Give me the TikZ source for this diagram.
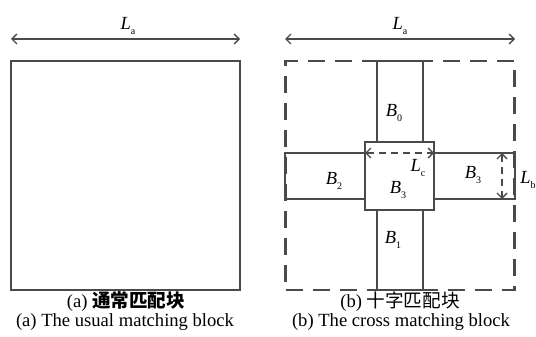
\documentclass[tikz,border=0pt]{standalone}
\usepackage{fontspec}
\setmainfont{Liberation Serif}
\newfontfamily\cjk{Noto Sans CJK SC}
\usetikzlibrary{arrows.meta}
\definecolor{lc}{HTML}{4A4A4A}
\begin{document}
\begin{tikzpicture}[x=1pt,y=-1pt,
  blk/.style={draw=lc,line width=2.2pt,inner sep=0pt,outer sep=0pt},
  dim/.style={draw=lc,line width=1.4pt,{Straight Barb[length=5pt,width=10pt]}-{Straight Barb[length=5pt,width=10pt]}},
  lbl/.style={inner sep=0pt,font=\fontsize{18.5}{20}\selectfont},
  captxt/.style={inner sep=0pt,font=\fontsize{18.6}{20}\selectfont}]
\useasboundingbox (0,0) rectangle (536,337);
% left
\node[blk,minimum width=229pt,minimum height=229pt] (sqa) at (125.5,175.5) {};
\coordinate (aL) at (11,39);
\coordinate (aR) at (240,39);
\draw[dim] (aL) -- (aR);
\node[lbl] (la) at (128,26) {\textit{L}\raisebox{-0.5ex}{\fontsize{10}{10}\selectfont a}};
\node[captxt] (ca1) at (126,302) {(a) {\cjk\bfseries 通常匹配块}};
\node[captxt] (ca2) at (125,322) {(a) The usual matching block};
% right
\node[blk,dash pattern=on 17pt off 10pt,minimum width=229pt,minimum height=229pt] (sqb) at (400,175.5) {};
\node[blk,minimum width=46pt,minimum height=229pt] (vbar) at (400,175.5) {};
\node[blk,minimum width=230pt,minimum height=46pt] (hbar) at (400,176) {};
\node[blk,fill=white,minimum width=69pt,minimum height=68pt] (cen) at (399.5,176) {};
\coordinate (bL) at (285,39);
\coordinate (bR) at (515,39);
\draw[dim] (bL) -- (bR);
\node[lbl] (lb) at (400,26) {\textit{L}\raisebox{-0.5ex}{\fontsize{10}{10}\selectfont a}};
\draw[dim,dash pattern=on 7pt off 5pt] (cen.north west |- hbar.north) -- (cen.north east |- hbar.north);
\coordinate (lbt) at (502,153);
\coordinate (lbb) at (502,199);
\draw[dim,dash pattern=on 7pt off 5pt] (lbt) -- (lbb);
\node[lbl] (nlc) at (418,168) {\textit{L}\raisebox{-0.5ex}{\fontsize{10}{10}\selectfont c}};
\node[lbl] (nlb) at (528,180) {\textit{L}\raisebox{-0.5ex}{\fontsize{10}{10}\selectfont b}};
\node[lbl] (b0) at (394,113) {\textit{B}\raisebox{-0.5ex}{\fontsize{10}{10}\selectfont 0}};
\node[lbl] (b1) at (393,240) {\textit{B}\raisebox{-0.5ex}{\fontsize{10}{10}\selectfont 1}};
\node[lbl] (b2) at (334,181) {\textit{B}\raisebox{-0.5ex}{\fontsize{10}{10}\selectfont 2}};
\node[lbl] (b3c) at (398,190) {\textit{B}\raisebox{-0.5ex}{\fontsize{10}{10}\selectfont 3}};
\node[lbl] (b3r) at (473,175) {\textit{B}\raisebox{-0.5ex}{\fontsize{10}{10}\selectfont 3}};
\node[captxt] (cb1) at (400,302) {(b) {\cjk 十字匹配块}};
\node[captxt] (cb2) at (401,322) {(b) The cross matching block};
\end{tikzpicture}
\end{document}
